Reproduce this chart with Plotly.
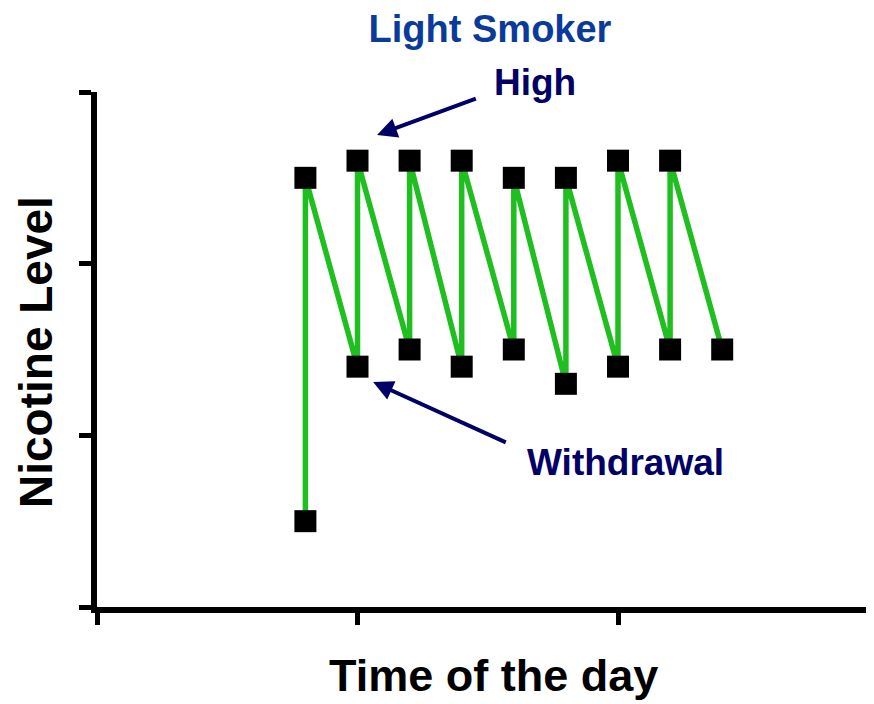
import plotly.graph_objects as go

# Time of day (arbitrary units) and nicotine level (arbitrary units), in drawing order
time_points = [0.8, 0.8, 1.0, 1.0, 1.2, 1.2, 1.4, 1.4, 1.6, 1.6, 1.8, 1.8, 2.0, 2.0, 2.2, 2.2, 2.4]
nicotine_level = [0.5, 2.5, 1.4, 2.6, 1.5, 2.6, 1.4, 2.6, 1.5, 2.5, 1.3, 2.5, 1.4, 2.6, 1.5, 2.6, 1.5]

x_ticks = [0, 1, 2, 3]
y_ticks = [0, 1, 2, 3]

title_text = "Light Smoker"
x_title = "Time of the day"
y_title = "Nicotine Level"
high_label = "High"
withdrawal_label = "Withdrawal"

FONT = "Arial, 'Liberation Sans', Helvetica, sans-serif"

fig = go.Figure()
fig.add_trace(go.Scatter(
    x=time_points, y=nicotine_level, mode="lines+markers",
    line=dict(color="#1fbf1f", width=5.5),
    marker=dict(symbol="square", size=22, color="black", line=dict(width=0)),
    showlegend=False, hoverinfo="skip",
))

# page has an 8px body margin, so the figure is offset by 8px
W, H = 866, 696
L, R, T, B = 89, 0, 84, 97
PLOT_W, PLOT_H = W - L - R, H - T - B

fig.update_layout(
    width=W, height=H,
    margin=dict(l=L, r=R, t=T, b=B, pad=0),
    paper_bgcolor="white", plot_bgcolor="white",
    font=dict(family=FONT, color="black"),
    title=dict(text="<b>" + title_text + "</b>", x=(490 - 8) / W, xanchor="center",
               xref="container", y=1 - 21 / H, yanchor="middle", yref="container",
               font=dict(size=38, color="#0a3a9a", family=FONT)),
    xaxis=dict(range=[0, PLOT_W / 260.5], showgrid=False, zeroline=False,
               showline=True, linecolor="black", linewidth=6,
               ticks="outside", ticklen=12, tickwidth=5, tickcolor="black",
               tickvals=x_ticks, showticklabels=False),
    yaxis=dict(range=[0, 3], showgrid=False, zeroline=False,
               showline=True, linecolor="black", linewidth=6,
               ticks="outside", ticklen=12, tickwidth=5, tickcolor="black",
               tickvals=y_ticks, showticklabels=False),
)

# axis titles placed precisely as annotations
fig.add_annotation(x=(493 - 97) / PLOT_W, y=(607 - 675) / PLOT_H, xref="paper", yref="paper",
                   text="<b>" + x_title + "</b>", showarrow=False, xanchor="center", yanchor="middle",
                   font=dict(size=45, color="black", family=FONT))
fig.add_annotation(x=(36 - 97) / PLOT_W, y=(607 - 352) / PLOT_H, xref="paper", yref="paper",
                   text="<b>" + y_title + "</b>", showarrow=False, xanchor="center", yanchor="middle",
                   textangle=-90, font=dict(size=46, color="black", family=FONT))

navy = "#000066"
fig.add_annotation(x=(535 - 97) / PLOT_W, y=(607 - 82) / PLOT_H, xref="paper", yref="paper",
                   text="<b>" + high_label + "</b>", showarrow=False, xanchor="center", yanchor="middle",
                   font=dict(size=37, color=navy, family=FONT))
fig.add_annotation(x=(625 - 97) / PLOT_W, y=(607 - 462) / PLOT_H, xref="paper", yref="paper",
                   text="<b>" + withdrawal_label + "</b>", showarrow=False, xanchor="center", yanchor="middle",
                   font=dict(size=37, color=navy, family=FONT))
# arrows
fig.add_annotation(x=1.075, y=2.75, ax=1.46, ay=2.965, xref="x", yref="y", axref="x", ayref="y",
                   text="", showarrow=True, arrowhead=2, arrowsize=1, arrowwidth=4, arrowcolor=navy)
fig.add_annotation(x=1.06, y=1.31, ax=1.575, ay=0.955, xref="x", yref="y", axref="x", ayref="y",
                   text="", showarrow=True, arrowhead=2, arrowsize=1, arrowwidth=4, arrowcolor=navy)

fig.write_html("out.html")
